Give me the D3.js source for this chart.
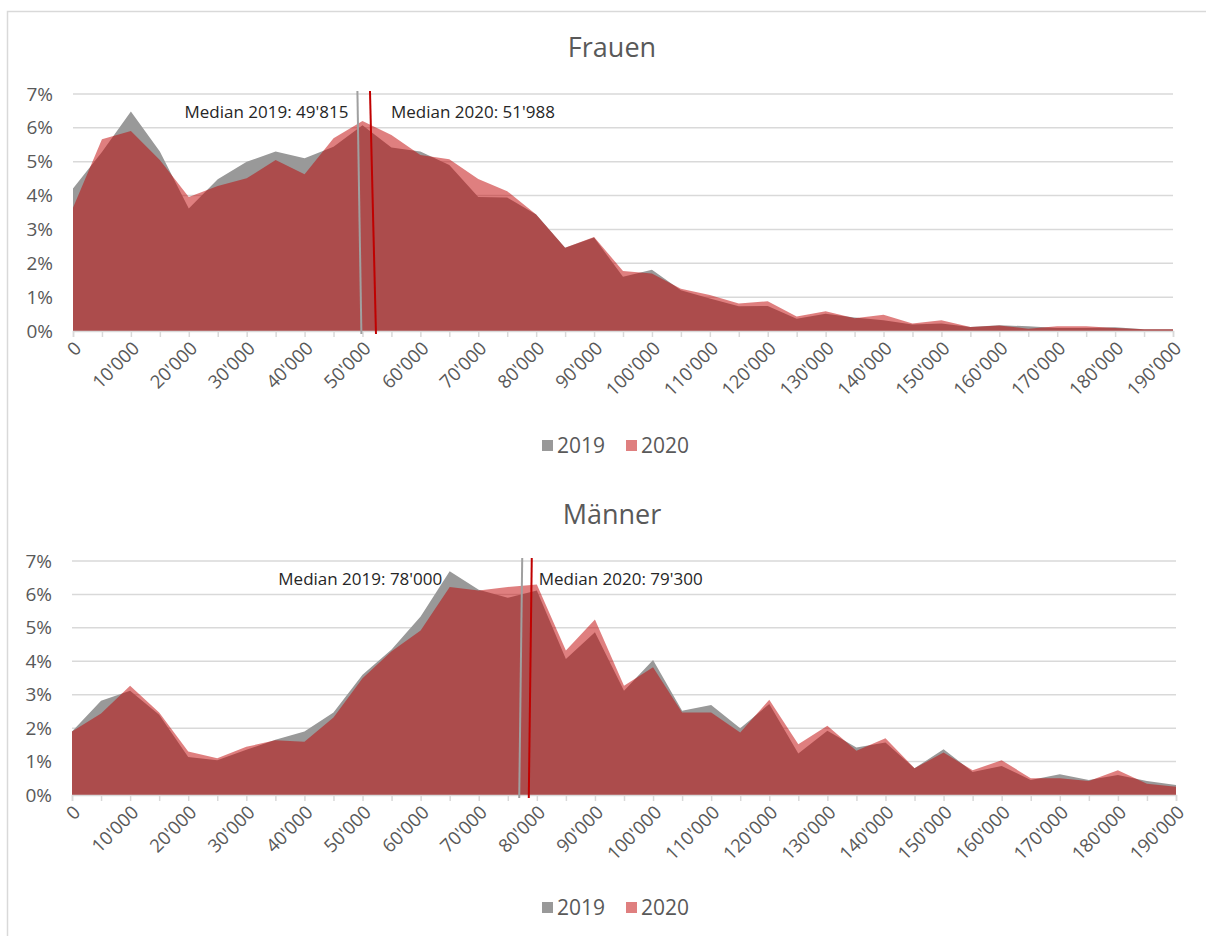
<!DOCTYPE html>
<meta charset="utf-8">
<style>
  body { margin: 0; background: #fff; }
  text { font-family: "Open Sans", sans-serif; }
</style>
<svg width="1206" height="936"></svg>
<script src="https://d3js.org/d3.v7.min.js"></script>
<script>

// income classes (CHF), one point every 5'000
var incomes = [0, 5000, 10000, 15000, 20000, 25000, 30000, 35000, 40000, 45000,
  50000, 55000, 60000, 65000, 70000, 75000, 80000, 85000, 90000, 95000,
  100000, 105000, 110000, 115000, 120000, 125000, 130000, 135000, 140000, 145000,
  150000, 155000, 160000, 165000, 170000, 175000, 180000, 185000, 190000]

// only every second class gets a label
var tickLabels = ["0", "10'000", "20'000", "30'000", "40'000", "50'000", "60'000", "70'000",
  "80'000", "90'000", "100'000", "110'000", "120'000", "130'000", "140'000", "150'000",
  "160'000", "170'000", "180'000", "190'000"]

var yTicks = [0, 1, 2, 3, 4, 5, 6, 7]
var years = ["2019", "2020"]

// share of persons in %
var frauen2019 = [4.21, 5.29, 6.48, 5.30, 3.62, 4.48, 5.00, 5.30, 5.10, 5.44,
  6.08, 5.42, 5.30, 4.90, 3.96, 3.94, 3.44, 2.46, 2.76, 1.60,
  1.81, 1.20, 0.96, 0.73, 0.74, 0.36, 0.51, 0.40, 0.32, 0.19,
  0.22, 0.12, 0.17, 0.14, 0.09, 0.09, 0.11, 0.05, 0.05]
var frauen2020 = [3.64, 5.66, 5.91, 5.05, 3.96, 4.28, 4.51, 5.05, 4.63, 5.69,
  6.20, 5.79, 5.20, 5.07, 4.49, 4.13, 3.44, 2.46, 2.78, 1.77,
  1.70, 1.25, 1.06, 0.81, 0.88, 0.43, 0.58, 0.38, 0.48, 0.22,
  0.32, 0.12, 0.16, 0.07, 0.14, 0.14, 0.09, 0.05, 0.05]

var maenner2019 = [1.90, 2.82, 3.12, 2.40, 1.14, 1.04, 1.35, 1.65, 1.90, 2.47,
  3.60, 4.35, 5.34, 6.69, 6.14, 5.90, 6.12, 4.07, 4.87, 3.12,
  4.04, 2.52, 2.69, 2.00, 2.72, 1.24, 1.92, 1.42, 1.57, 0.80,
  1.37, 0.69, 0.87, 0.45, 0.62, 0.45, 0.60, 0.42, 0.30]
var maenner2020 = [1.90, 2.44, 3.27, 2.47, 1.30, 1.10, 1.44, 1.64, 1.59, 2.32,
  3.49, 4.30, 4.92, 6.22, 6.12, 6.22, 6.30, 4.32, 5.25, 3.27,
  3.82, 2.47, 2.47, 1.87, 2.85, 1.52, 2.07, 1.32, 1.70, 0.80,
  1.27, 0.74, 1.04, 0.50, 0.50, 0.42, 0.74, 0.34, 0.25]

var medianLabels = [
  ["Median 2019: 49'815", "Median 2020: 51'988"],
  ["Median 2019: 78'000", "Median 2020: 79'300"]
]
var medianValues = [[49815, 51988], [78000, 79300]]

var colors = { "2019": "#999999", "2020": "rgba(192,0,0,0.5)" }
var lineColors = { "2019": "#a0a0a0", "2020": "#c00000" }

var svg = d3.select("svg")

// outer frame (only top + left edges are inside the picture)
svg.append("rect")
  .attr("x", 7.5).attr("y", 11.5)
  .attr("width", 1300).attr("height", 1000)
  .attr("fill", "none").attr("stroke", "#d9d9d9").attr("stroke-width", 1.5)

// the median lines were hand placed in the source, so they lean a little:
// lean = [top offset, bottom offset] in px, per year
var panels = [
  { title: "Frauen", titleY: 48, left: 73, right: 1173, top: 94, bottom: 331, legendY: 446,
    s2019: frauen2019, s2020: frauen2020, labelY: 112,
    lean: [[-4, 0], [-4, 2]], labelOff: [-13, 17] },
  { title: "Männer", titleY: 515, left: 72, right: 1176, top: 561, bottom: 795, legendY: 908,
    s2019: maenner2019, s2020: maenner2020, labelY: 579,
    lean: [[-3, -6], [-1, -4]], labelOff: [-83, 6] }
]

panels.forEach(function (p, pi) {
  var x = d3.scaleLinear().domain([0, 190000]).range([p.left, p.right])
  var y = d3.scaleLinear().domain([0, 7]).range([p.bottom, p.top])
  var g = svg.append("g")

  g.append("text")
    .attr("x", 612).attr("y", p.titleY).attr("dy", "0.35em")
    .attr("text-anchor", "middle")
    .attr("font-size", 27).attr("fill", "#595959")
    .text(p.title)

  // gridlines
  g.append("g").selectAll("line").data(yTicks).join("line")
    .attr("x1", p.left).attr("x2", p.right)
    .attr("y1", function (d) { return y(d) }).attr("y2", function (d) { return y(d) })
    .attr("stroke", "#d9d9d9").attr("stroke-width", 1.5)

  // y axis labels
  var yAxis = d3.axisLeft(y).tickValues(yTicks).tickSize(0).tickPadding(20)
    .tickFormat(function (d) { return d + "%" })
  g.append("g").attr("transform", "translate(" + p.left + ",0)").call(yAxis)
    .call(function (a) { a.select(".domain").remove() })
    .selectAll("text")
    .attr("font-family", "Open Sans").attr("font-size", 19).attr("fill", "#595959")

  // areas
  var area = d3.area()
    .x(function (d, i) { return x(incomes[i]) })
    .y0(y(0))
    .y1(function (d) { return y(d) })

  g.append("path").datum(p.s2019).attr("d", area).attr("fill", colors["2019"])
  g.append("path").datum(p.s2020).attr("d", area).attr("fill", colors["2020"])

  // x axis
  var xAxis = d3.axisBottom(x).tickValues(incomes).tickSize(6).tickFormat("")
  var ax = g.append("g").attr("transform", "translate(0," + p.bottom + ")").call(xAxis)
  ax.select(".domain").attr("stroke", "#d9d9d9").attr("stroke-width", 1.5)
  ax.selectAll(".tick line").attr("stroke", "#d9d9d9").attr("stroke-width", 1.5)

  g.append("g").selectAll("text").data(tickLabels).join("text")
    .attr("transform", function (d, i) {
      return "translate(" + (x(incomes[i * 2]) + 5) + "," + (p.bottom + 14) + ") rotate(-45)"
    })
    .attr("text-anchor", "end").attr("dy", "0.35em")
    .attr("font-size", 18.5).attr("fill", "#595959")
    .text(function (d) { return d })

  // median lines
  years.forEach(function (yr, k) {
    var mx = x(medianValues[pi][k])
    g.append("line")
      .attr("x1", mx + p.lean[k][0]).attr("y1", p.top - 3)
      .attr("x2", mx + p.lean[k][1]).attr("y2", p.bottom + 3)
      .attr("stroke", lineColors[yr]).attr("stroke-width", 2)
  })

  g.append("text")
    .attr("x", x(medianValues[pi][0]) + p.labelOff[0]).attr("y", p.labelY).attr("dy", "0.35em")
    .attr("text-anchor", "end").attr("font-size", 17).attr("fill", "#262626")
    .text(medianLabels[pi][0])
  g.append("text")
    .attr("x", x(medianValues[pi][1]) + p.labelOff[1]).attr("y", p.labelY).attr("dy", "0.35em")
    .attr("text-anchor", "start").attr("font-size", 17).attr("fill", "#262626")
    .text(medianLabels[pi][1])

  // legend
  var leg = g.append("g").attr("transform", "translate(542," + p.legendY + ")")
  years.forEach(function (yr, k) {
    var lx = k * 84
    leg.append("rect").attr("x", lx).attr("y", -6).attr("width", 11).attr("height", 11)
      .attr("fill", colors[yr])
    leg.append("text").attr("x", lx + 15).attr("y", 0).attr("dy", "0.35em")
      .attr("font-size", 21).attr("fill", "#595959").text(yr)
  })
})

</script>
